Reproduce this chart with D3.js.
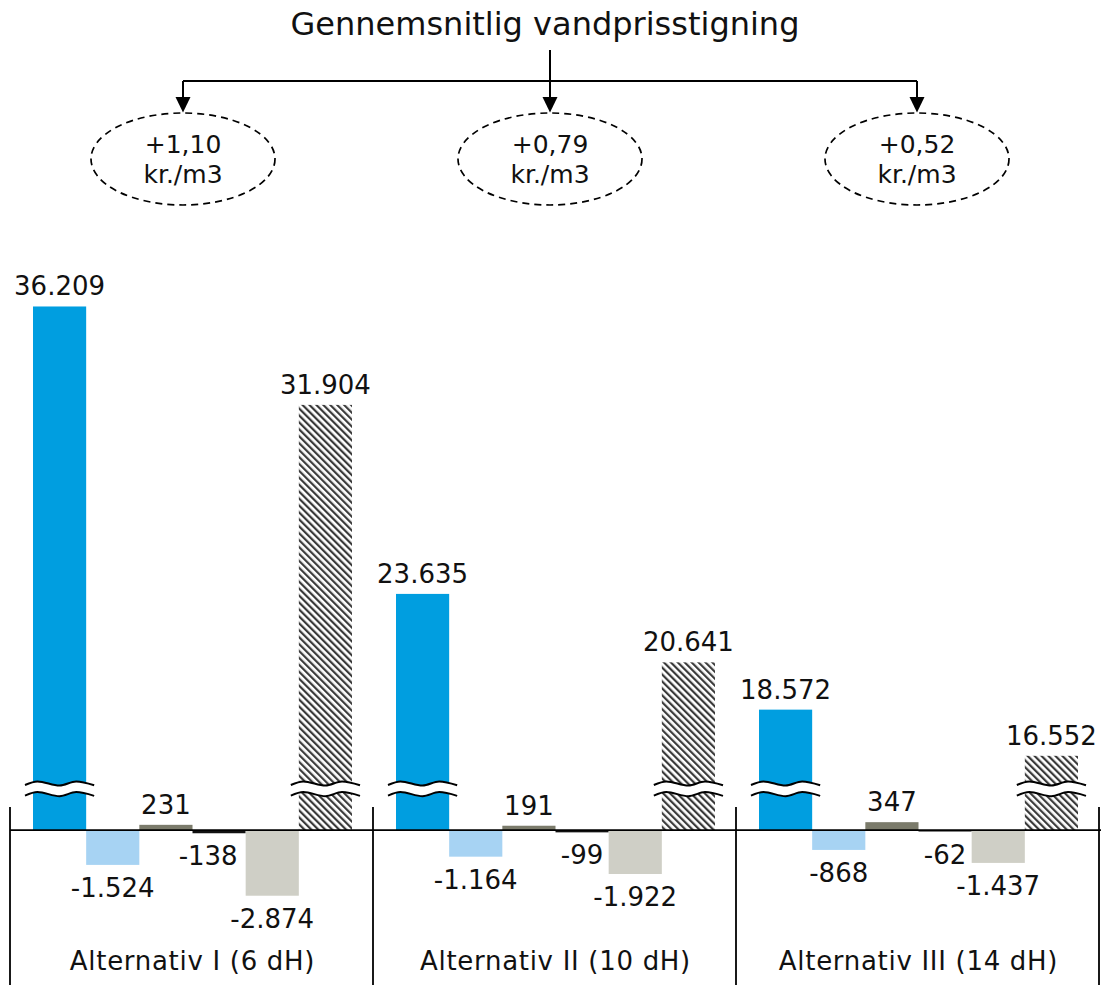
<!DOCTYPE html>
<html>
<head>
<meta charset="utf-8">
<script src="https://cdn.jsdelivr.net/npm/d3@7"></script>
<style>
  html, body { margin: 0; padding: 0; background: #fff; }
  svg { display: block; font-family: "DejaVu Sans", Verdana, sans-serif; }
</style>
</head>
<body>
<svg id="chart" width="1101" height="985"></svg>
<script>
// ---- data -------------------------------------------------------------
const groups = ["Alternativ I (6 dH)", "Alternativ II (10 dH)", "Alternativ III (14 dH)"];
const seriesKeys = ["A", "B", "C", "D", "E", "F"];
const valuesA = [36209, 23635, 18572];   // blue, broken
const valuesB = [-1524, -1164, -868];    // light blue
const valuesC = [231, 191, 347];         // dark grey
const valuesD = [-138, -99, -62];        // black
const valuesE = [-2874, -1922, -1437];   // light grey
const valuesF = [31904, 20641, 16552];   // hatched, broken
const priceIncrease = [1.10, 0.79, 0.52]; // kr./m3 per alternative
const titleText = "Gennemsnitlig vandprisstigning";
const unitText = "kr./m3";

const seriesValues = [valuesA, valuesB, valuesC, valuesD, valuesE, valuesF];
const seriesFill = ["#009ee0", "#a7d3f3", "#7b7b6b", "#111111", "#cfcfc6", "url(#hatch)"];

// ---- formatting (Danish separators) ------------------------------------
const da = d3.formatLocale({ decimal: ",", thousands: ".", grouping: [3], currency: ["", " kr."], minus: "-" });
const fmtValue = da.format(",d");
const fmtIncrease = da.format("+.2f");

// ---- scales -----------------------------------------------------------
const svg = d3.select("#chart");
const breakLow = 1800, breakHigh = 15100;  // hidden stretch of the value axis
const breakY = 789;

const y = d3.scaleLinear()
  .domain([-3000, breakLow, breakHigh, 37000])
  .range([898.6, breakY, breakY, 288.4]);

const x0 = d3.scaleBand().domain(groups).range([10, 1099]);
const blockOffset = 23;
const x1 = d3.scaleBand().domain(seriesKeys).range([0, 319]);

const rows = [];
groups.forEach((g, gi) => {
  seriesKeys.forEach((k, si) => {
    rows.push({ group: g, gi, key: k, si, value: seriesValues[si][gi] });
  });
});

// ---- hatch pattern ----------------------------------------------------
const defs = svg.append("defs");
const hatch = defs.append("pattern")
  .attr("id", "hatch")
  .attr("patternUnits", "userSpaceOnUse")
  .attr("width", 4.9).attr("height", 10)
  .attr("patternTransform", "rotate(-45)");
hatch.append("rect").attr("width", 4.9).attr("height", 10).attr("fill", "#ffffff");
hatch.append("rect").attr("width", 2.2).attr("height", 10).attr("fill", "#3a3a3a");

// ---- bars -------------------------------------------------------------
const barX = d => x0(d.group) + blockOffset + x1(d.key);
const bw = x1.bandwidth();

svg.append("g").selectAll("rect")
  .data(rows)
  .join("rect")
  .attr("x", barX)
  .attr("width", bw)
  .attr("y", d => Math.min(y(d.value), y(0)))
  .attr("height", d => Math.abs(y(d.value) - y(0)))
  .attr("fill", d => seriesFill[d.si]);

// ---- break marks on bars beyond the hidden stretch ---------------------
const waveFrac = [0, 0.18, 0.5, 0.74, 1];
const waveDy = [1.3, -2.2, 1.9, -2.2, 1.6];
const waveHalfGap = 5.3;
const wave = d3.line().curve(d3.curveMonotoneX);

const broken = rows.filter(d => d.value > breakLow);
const bg = svg.append("g");
broken.forEach(d => {
  const xa = barX(d) - 8, w = bw + 16;
  const top = waveFrac.map((f, i) => [xa + f * w, breakY - waveHalfGap + waveDy[i]]);
  const bot = waveFrac.map((f, i) => [xa + f * w, breakY + waveHalfGap + waveDy[i]]);
  const area = d3.area().curve(d3.curveMonotoneX)
    .x(p => p[0]).y0(p => p[1]).y1((p, i) => bot[i][1]);
  bg.append("path").attr("d", area(top)).attr("fill", "#fff");
  bg.append("path").attr("d", wave(top)).attr("fill", "none").attr("stroke", "#000").attr("stroke-width", 2);
  bg.append("path").attr("d", wave(bot)).attr("fill", "none").attr("stroke", "#000").attr("stroke-width", 2);
});

// ---- axis line & group separators --------------------------------------
svg.append("line")
  .attr("x1", 10).attr("x2", 1101)
  .attr("y1", y(0)).attr("y2", y(0))
  .attr("stroke", "#000").attr("stroke-width", 1.8);

const edges = groups.map(g => x0(g)).concat([x0(groups[groups.length - 1]) + x0.bandwidth()]);
svg.append("g").selectAll("line")
  .data(edges)
  .join("line")
  .attr("x1", d => d).attr("x2", d => d)
  .attr("y1", 807).attr("y2", 985)
  .attr("stroke", "#000").attr("stroke-width", 1.8);

// ---- group labels -----------------------------------------------------
svg.append("g").selectAll("text")
  .data(groups)
  .join("text")
  .attr("x", g => x0(g) + x0.bandwidth() / 2 + 1)
  .attr("y", 970)
  .attr("text-anchor", "middle")
  .attr("font-size", 26)
  .attr("letter-spacing", 0.7)
  .attr("fill", "#111")
  .text(g => g);

// ---- value labels -----------------------------------------------------
const labels = svg.append("g").selectAll("text")
  .data(rows)
  .join("text")
  .attr("x", d => barX(d) + bw / 2)
  .attr("y", d => d.value >= 0 ? y(d.value) - 11 : y(d.value) + 32)
  .attr("text-anchor", "middle")
  .attr("font-size", 26)
  .attr("fill", "#111")
  .text(d => fmtValue(d.value));

// nudge a negative label left when it would run into the next (negative) bar
labels.each(function (d) {
  if (d.value >= 0 || d.si === seriesKeys.length - 1) return;
  const next = rows.find(r => r.gi === d.gi && r.si === d.si + 1);
  if (!next || next.value >= 0) return;
  const len = this.getComputedTextLength();
  const cx = barX(d) + bw / 2;
  const right = cx + len / 2;
  const nextLeft = barX(next);
  if (right > nextLeft && y(next.value) > y(d.value) + 14) {
    d3.select(this).attr("x", nextLeft - 8 - len / 2);
  }
});

// ---- headline annotation ----------------------------------------------
const xa = d3.scalePoint().domain(groups).range([183, 917]);
const ann = svg.append("g");

ann.append("text")
  .attr("x", 545).attr("y", 35)
  .attr("text-anchor", "middle")
  .attr("font-size", 32)
  .attr("fill", "#111")
  .text(titleText);

const hubX = xa(groups[1]);
ann.append("line")
  .attr("x1", hubX).attr("x2", hubX).attr("y1", 50).attr("y2", 81)
  .attr("stroke", "#000").attr("stroke-width", 2);
ann.append("line")
  .attr("x1", xa(groups[0])).attr("x2", xa(groups[groups.length - 1]))
  .attr("y1", 81).attr("y2", 81)
  .attr("stroke", "#000").attr("stroke-width", 2);

groups.forEach((g, i) => {
  const cx = xa(g);
  ann.append("line")
    .attr("x1", cx).attr("x2", cx).attr("y1", 81).attr("y2", 98)
    .attr("stroke", "#000").attr("stroke-width", 2);
  ann.append("path")
    .attr("d", `M${cx - 7.5},97 L${cx + 7.5},97 L${cx},112.5 Z`)
    .attr("fill", "#000");
  ann.append("ellipse")
    .attr("cx", cx).attr("cy", 159)
    .attr("rx", 92).attr("ry", 46)
    .attr("fill", "none")
    .attr("stroke", "#000")
    .attr("stroke-width", 1.7)
    .attr("stroke-dasharray", "7,5");
  ann.append("text")
    .attr("x", cx).attr("y", 153)
    .attr("text-anchor", "middle")
    .attr("font-size", 25)
    .attr("fill", "#111")
    .text(fmtIncrease(priceIncrease[i]));
  ann.append("text")
    .attr("x", cx).attr("y", 183)
    .attr("text-anchor", "middle")
    .attr("font-size", 25)
    .attr("fill", "#111")
    .text(unitText);
});
</script>
</body>
</html>
